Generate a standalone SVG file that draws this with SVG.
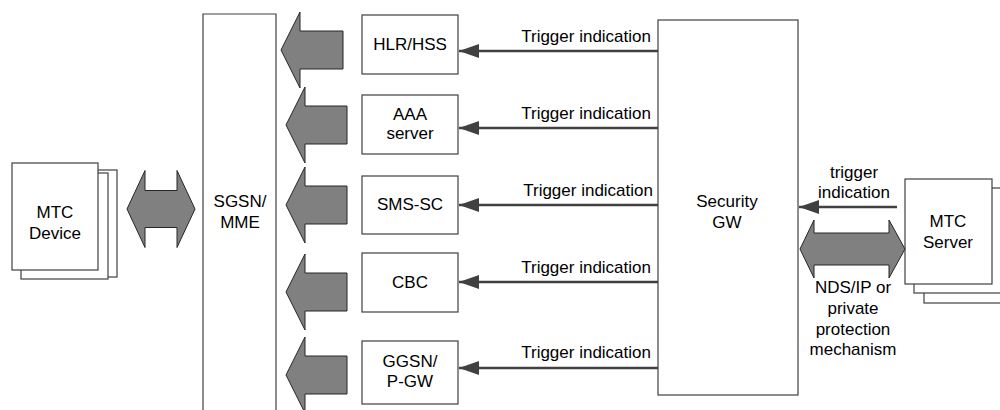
<svg xmlns="http://www.w3.org/2000/svg" width="1000" height="410" viewBox="0 0 1000 410">
<style>
.box{fill:#fff;stroke:#404040;stroke-width:1.2}
.big{fill:#808080;stroke:#262626;stroke-width:1}
.t{font-family:"Liberation Sans",Arial,sans-serif;font-size:17px;fill:#000}
.c{text-anchor:middle}
.e{text-anchor:end}
.ln{stroke:#404040;stroke-width:2.5;fill:none}
</style>
<defs>
<marker id="ah" markerUnits="userSpaceOnUse" markerWidth="22" markerHeight="16" refX="20" refY="7" orient="auto">
<path d="M0,0 L20,7 L0,14 Z" fill="#404040"/>
</marker>
</defs>
<g id="mtc-device">
<rect class="box" x="30" y="170" width="87" height="107"/>
<rect class="box" x="21" y="173" width="87" height="106"/>
<rect class="box" x="12" y="163" width="86" height="107"/>
<text class="t c" x="55" y="218">MTC</text>
<text class="t c" x="55" y="239">Device</text>
</g>
<g id="sgsn-mme">
<path class="box" d="M203,420 L203,14 L276,14 L276,420"/>
<text class="t c" x="240" y="207">SGSN/</text>
<text class="t c" x="240" y="228">MME</text>
</g>
<g id="hlr-hss">
<rect class="box" x="362" y="15" width="96" height="59"/>
<text class="t c" x="410" y="50">HLR/HSS</text>
</g>
<g id="aaa-server">
<rect class="box" x="362" y="95" width="96" height="59"/>
<text class="t c" x="410" y="120">AAA</text>
<text class="t c" x="410" y="139">server</text>
</g>
<g id="sms-sc">
<rect class="box" x="362" y="176" width="96" height="58"/>
<text class="t c" x="410" y="210">SMS-SC</text>
</g>
<g id="cbc">
<rect class="box" x="362" y="253" width="96" height="59"/>
<text class="t c" x="410" y="288">CBC</text>
</g>
<g id="ggsn-pgw">
<rect class="box" x="362" y="341" width="96" height="63"/>
<text class="t c" x="410" y="367">GGSN/</text>
<text class="t c" x="410" y="387">P-GW</text>
</g>
<g id="security-gw">
<rect class="box" x="658" y="20" width="140" height="375"/>
<text class="t c" x="727" y="207">Security</text>
<text class="t c" x="727" y="228">GW</text>
</g>
<g id="mtc-server">
<rect class="box" x="924" y="197" width="90" height="106"/>
<rect class="box" x="914" y="188" width="100" height="105"/>
<rect class="box" x="905" y="179" width="87" height="105"/>
<text class="t c" x="948" y="227">MTC</text>
<text class="t c" x="948" y="248">Server</text>
</g>
<g id="connectors">
<path class="big" d="M127,209 L145,170.5 L145,190.5 L177,190.5 L177,170.5 L195,209 L177,247.5 L177,227.5 L145,227.5 L145,247.5 Z"/>
<path class="big" d="M281,50 L300,12 L300,31 L343,31 L343,69 L300,69 L300,88 Z"/>
<path class="big" d="M286,125 L305,87 L305,106 L347,106 L347,144 L305,144 L305,163 Z"/>
<path class="big" d="M286,205 L305,167 L305,186 L347,186 L347,224 L305,224 L305,243 Z"/>
<path class="big" d="M286,292 L305,254 L305,273 L347,273 L347,311 L305,311 L305,330 Z"/>
<path class="big" d="M286,375 L305,337 L305,356 L347,356 L347,394 L305,394 L305,413 Z"/>
<line class="ln" x1="658" y1="51" x2="459" y2="51" marker-end="url(#ah)"/>
<line class="ln" x1="658" y1="128" x2="459" y2="128" marker-end="url(#ah)"/>
<line class="ln" x1="658" y1="205" x2="459" y2="205" marker-end="url(#ah)"/>
<line class="ln" x1="658" y1="282" x2="459" y2="282" marker-end="url(#ah)"/>
<line class="ln" x1="658" y1="368" x2="459" y2="368" marker-end="url(#ah)"/>
<text class="t e" x="651" y="42">Trigger indication</text>
<text class="t e" x="651" y="119">Trigger indication</text>
<text class="t e" x="653" y="196">Trigger indication</text>
<text class="t e" x="651" y="273">Trigger indication</text>
<text class="t e" x="651" y="358">Trigger indication</text>
<line class="ln" x1="897" y1="207" x2="799" y2="207" marker-end="url(#ah)"/>
<text class="t c" x="854" y="178">trigger</text>
<text class="t c" x="854" y="198">indication</text>
<path class="big" d="M800,249 L814,220 L814,233 L889,233 L889,220 L905,249 L889,278 L889,265 L814,265 L814,278 Z"/>
<text class="t c" x="853" y="293">NDS/IP or</text>
<text class="t c" x="853" y="314">private</text>
<text class="t c" x="853" y="335">protection</text>
<text class="t c" x="853" y="355">mechanism</text>
</g>
</svg>
